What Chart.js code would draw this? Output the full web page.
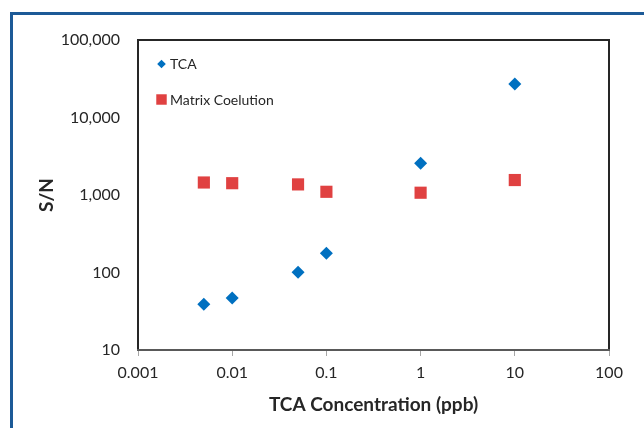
<!DOCTYPE html>
<html lang="en">

<head>
    <meta charset="UTF-8">
    <title>S/N vs TCA Concentration</title>
    <script src="https://cdn.jsdelivr.net/npm/chart.js"></script>
    <style>
        body { margin: 0; background: #fff; overflow: hidden; }
        .frame {
            position: absolute; left: 10px; top: 12px; width: 700px; height: 500px;
            border-left: 3px solid #1c5a97; border-top: 3px solid #1c5a97;
        }
        #grafico { position: absolute; left: 0; top: 0; }
    </style>
</head>

<body>
    <div class="frame"></div>
    <canvas id="grafico" width="644" height="428"></canvas>
</body>

<script>
    // dados
    var concentracoes = [0.005, 0.01, 0.05, 0.1, 1, 10];
    var tcaSN = [39, 47, 101, 177, 2560, 27000];
    var matrixSN = [1450, 1420, 1370, 1100, 1070, 1560];

    var xTicks = [0.001, 0.01, 0.1, 1, 10, 100];
    var xLabels = ['0.001', '0.01', '0.1', '1', '10', '100'];
    var yTicks = [10, 100, 1000, 10000, 100000];
    var yLabels = ['10', '100', '1,000', '10,000', '100,000'];

    var fonte = 'Lato, "Open Sans", sans-serif';

    function pontos(ys) {
        return concentracoes.map((c, i) => ({ x: c, y: ys[i] }));
    }

    // moldura da area do grafico
    const bordaPlot = {
        id: 'bordaPlot',
        beforeDatasetsDraw(chart) {
            const a = chart.chartArea;
            const ctx = chart.ctx;
            ctx.save();
            ctx.lineWidth = 2;
            ctx.strokeStyle = '#262626';
            ctx.beginPath();
            ctx.moveTo(a.left, a.bottom);
            ctx.lineTo(a.left, a.top);
            ctx.lineTo(a.right, a.top);
            ctx.lineTo(a.right, a.bottom);
            ctx.stroke();
            ctx.strokeStyle = '#595959';
            ctx.beginPath();
            ctx.moveTo(a.left - 1, a.bottom);
            ctx.lineTo(a.right + 1, a.bottom);
            ctx.stroke();
            ctx.restore();
        }
    };

    // legenda dentro do grafico
    const legendaInterna = {
        id: 'legendaInterna',
        afterDraw(chart) {
            const a = chart.chartArea;
            const ctx = chart.ctx;
            const itens = [
                { ds: chart.data.datasets[0], r: 4.3, dy: 24 },
                { ds: chart.data.datasets[1], r: 7.4, dy: 59.5 }
            ];
            ctx.save();
            itens.forEach((it) => {
                ctx.fillStyle = it.ds.backgroundColor;
                Chart.helpers.drawPoint(ctx, { pointStyle: it.ds.pointStyle, radius: it.r, borderWidth: 0 }, a.left + 23.5, a.top + it.dy);
                ctx.fillStyle = '#262626';
                ctx.font = '14px ' + fonte;
                ctx.textBaseline = 'middle';
                ctx.fillText(it.ds.label, a.left + 32, a.top + it.dy + 0.5);
            });
            ctx.restore();
        }
    };

    new Chart(document.getElementById('grafico'), {
        type: 'scatter',
        data: {
            datasets: [{
                label: 'TCA',
                data: pontos(tcaSN),
                pointStyle: 'rectRot',
                radius: 6.5,
                hoverRadius: 6.5,
                backgroundColor: '#0070c0',
                borderWidth: 0
            }, {
                label: 'Matrix Coelution',
                data: pontos(matrixSN),
                pointStyle: 'rect',
                radius: 8.6,
                hoverRadius: 8.6,
                backgroundColor: '#e04141',
                borderWidth: 0
            }]
        },
        options: {
            responsive: false,
            animation: false,
            layout: { padding: { left: 0, top: 40, right: 35, bottom: 0 } },
            plugins: {
                legend: { display: false },
                tooltip: { enabled: false }
            },
            scales: {
                x: {
                    type: 'logarithmic',
                    min: 0.001,
                    max: 100,
                    afterBuildTicks: (s) => { s.ticks = xTicks.map(v => ({ value: v })); },
                    afterFit: (s) => { s.height = 78; },
                    border: { display: false },
                    grid: { drawOnChartArea: false, drawTicks: true, tickLength: 6, color: '#a6a6a6', lineWidth: 1 },
                    ticks: {
                        callback: (v) => xLabels[xTicks.indexOf(v)],
                        autoSkip: false,
                        maxRotation: 0,
                        padding: 7,
                        color: '#262626',
                        font: { family: fonte, size: 16 }
                    },
                    title: {
                        display: true,
                        text: 'TCA Concentration (ppb)',
                        color: '#262626',
                        font: { family: fonte, size: 19, weight: 'bold', lineHeight: 1.2 },
                        padding: { top: 12, bottom: 12 }
                    }
                },
                y: {
                    type: 'logarithmic',
                    min: 10,
                    max: 100000,
                    afterBuildTicks: (s) => { s.ticks = yTicks.map(v => ({ value: v })); },
                    afterFit: (s) => { s.width = 138; },
                    border: { display: false },
                    grid: { display: false, drawTicks: false },
                    ticks: {
                        callback: (v) => yLabels[yTicks.indexOf(v)],
                        autoSkip: false,
                        padding: 18,
                        color: '#262626',
                        font: { family: fonte, size: 16 }
                    },
                    title: {
                        display: true,
                        text: 'S/N',
                        color: '#262626',
                        font: { family: fonte, size: 19, weight: 'bold', lineHeight: 1.2 },
                        padding: { top: 35, bottom: 35 }
                    }
                }
            }
        },
        plugins: [bordaPlot, legendaInterna]
    });
</script>

</html>
